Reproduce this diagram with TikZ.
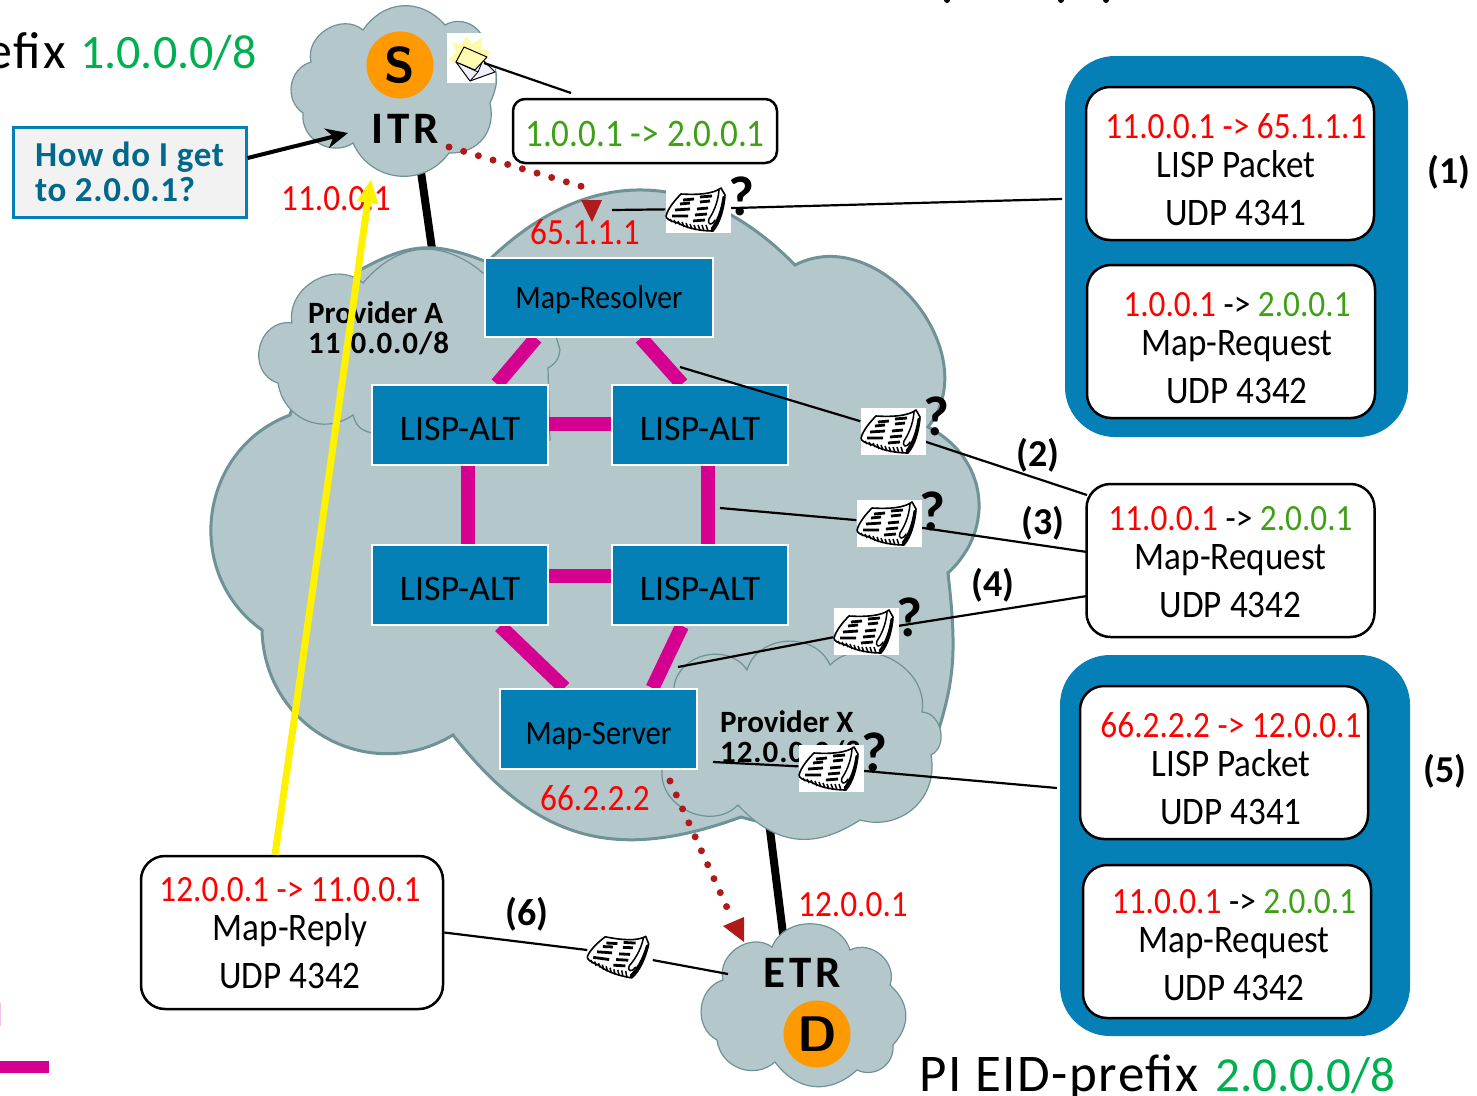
\documentclass[tikz,border=0pt]{standalone}
\usepackage{fontspec}
\setmainfont[FakeStretch=0.9]{Carlito}
\newfontfamily\wide{Carlito}
\usetikzlibrary{arrows.meta,calc}
\definecolor{cloudfill}{HTML}{B4C7CA}
\definecolor{cloudline}{HTML}{6F9297}
\definecolor{altblue}{HTML}{0480B6}
\definecolor{linkpink}{HTML}{D5008F}
\definecolor{darkred}{HTML}{AF1A1A}
\definecolor{pktgreen}{HTML}{3FA015}
\definecolor{eidgreen}{HTML}{00B050}
\definecolor{srcorange}{HTML}{FF9900}
\definecolor{askteal}{HTML}{00688B}
\newcommand{\fs}[1]{\fontsize{#1}{#1}\selectfont}
\newcommand{\rd}[1]{\textcolor{red}{#1}}
\newcommand{\gr}[1]{\textcolor{pktgreen}{#1}}
\newcommand{\ipl}[2][38pt]{\rule{0pt}{#1}{\fs{37}#2}}
\tikzset{
  lobe/.style={bend left=#1,looseness=1.15},
  bigcloud/.style={fill=cloudfill,draw=cloudline,line width=3pt,line join=miter},
  smallcloud/.style={fill=cloudfill,draw=cloudline,line width=1.2pt},
  altbox/.style={rectangle,fill=altblue,draw=white,line width=2pt,inner sep=0pt,font=\fs{33}},
  altwide/.style={altbox,minimum width=176pt,minimum height=80pt,font=\wide\fs{36}},
  panel/.style={rectangle,fill=altblue,rounded corners=50pt,minimum width=343pt,minimum height=381pt,inner sep=0pt},
  pkt/.style={rectangle,draw=black,fill=white,line width=2.5pt,rounded corners=24pt,minimum width=288pt,minimum height=153pt,inner sep=0pt},
  pkttext/.style={inner sep=0pt,align=center,font=\fs{39},minimum height=153pt},
  iplabel/.style={inner sep=0pt,font=\fs{37},text=red},
  steplabel/.style={inner sep=0pt,font=\wide\bfseries\fs{38}},
  wire/.style={line width=2.2pt,draw=black},
  uplink/.style={line width=8pt,draw=black},
  altlink/.style={line width=14pt,draw=linkpink},
  dots/.style={draw=darkred,line width=7pt,line cap=round,dash pattern=on 0pt off 15.3pt},
  newsbg/.style={rectangle,fill=white,minimum width=65pt,minimum height=47pt,inner sep=0pt},
  qmark/.style={inner sep=0pt,font=\wide\bfseries\fs{56}},
  provlabel/.style={inner sep=0pt,anchor=west,align=left,font=\wide\bfseries\fs{31}},
  endlabel/.style={inner sep=0pt,font=\wide\addfontfeature{LetterSpace=8}\bfseries\fs{45}},
  paper/.pic={
    \draw[line width=1.6pt,fill=white,line join=round] (-17,-15) .. controls (0,-14) and (15,-15) .. (23,-21) -- (27,-14)
       .. controls (26,0) and (22,14) .. (15,22) .. controls (5,22) and (-10,20) .. (-20,14)
       .. controls (-28,12) and (-32,10) .. (-32,7) .. controls (-30,-1) and (-22,-10) .. (-17,-15) -- cycle;
    \draw[line width=2.8pt] (-15,-9) -- (-4,-10) (-18,-5) -- (-8,-6) (-23,1) -- (-8,0) (-26,7) -- (-10,7);
    \draw[line width=2.8pt] (2,-12) -- (14,-13) (2,-7) -- (12,-8) (-1,0) -- (10,-1) (-3,6) -- (9,5) (-5,12) -- (7,11);
    \draw[line width=1.5pt] (-28,10) -- (-26,13) (-24,11) -- (-22,15) (-20,12) -- (-18,16) (-16,13) -- (-14,18)
       (-12,14) -- (-10,19) (-8,15) -- (-6,20) (-4,16) -- (-2,21) (0,16) -- (2,21) (4,16) -- (6,22) (8,16) -- (10,22);
    \draw[line width=3pt,line cap=round] (26,-12) .. controls (24,2) and (20,12) .. (14,20);
    \draw[line width=1.5pt,line cap=round] (21,-19) .. controls (20,-6) and (15,4) .. (11,10) .. controls (9,16) and (14,17) .. (17,11);
  }
}
\begin{document}
\begin{tikzpicture}[x=1pt,y=-1pt]
\useasboundingbox (0,0) rectangle (1477,1095);

% free ends of the connectors
\coordinate (itrcore) at (410,95);
\coordinate (provcore) at (445,340);
\coordinate (xcore) at (765,790);
\coordinate (etrcore) at (790,990);
\coordinate (itrin) at (348,133);
\coordinate (yellowtip) at (371,179);
\coordinate (dotA) at (449,147);
\coordinate (dotB) at (587,188);
\coordinate (dotC) at (670,781);
\coordinate (dotD) at (729,912);
\coordinate (envend) at (484,63);
\coordinate (envout) at (571,93);
\coordinate (q1) at (612,210);
\coordinate (q1e) at (1062,199);
\coordinate (q2) at (680,367);
\coordinate (q2e) at (1087,495);
\coordinate (q3) at (720,508);
\coordinate (q3e) at (1087,552);
\coordinate (q4) at (678,667);
\coordinate (q4e) at (1087,596);
\coordinate (q5) at (713,762);
\coordinate (q5e) at (1057,788);
\coordinate (etrin) at (728,974);

% access links behind the clouds
\draw[uplink] (itrcore) -- (provcore);
\draw[uplink] (xcore) -- (etrcore);

% core cloud
\path[bigcloud] (360,270) to[lobe=25] (487,262) to[lobe=45] (795,265) to[lobe=78] (928,427)
  to[lobe=55] (948,573) to[lobe=13] (925,770) to[lobe=30] (741,817) to[lobe=36] (453,735)
  to[lobe=60] (262,630) to[lobe=62] (290,415) to[lobe=10] (360,270) -- cycle;
% provider A
\path[smallcloud] (292,323) to[lobe=70] (363,283) to[lobe=45] (483,273) to[lobe=30] (560,350)
  to[lobe=25] (548,368) -- (550,440) -- (372,433) to[lobe=30] (353,415) to[lobe=58] (278,383)
  to[bend left=85,looseness=1.45] (292,323) -- cycle;
% provider X
\path[smallcloud] (674,687) to[lobe=70] (747,670) to[lobe=70] (830,665) to[lobe=72] (922,712)
  to[lobe=75] (931,755) to[lobe=58] (860,820) to[lobe=40] (738,805) to[lobe=70] (662,770) -- cycle;
% ITR cloud
\path[smallcloud] (311,62) to[lobe=72] (363,30) to[lobe=52] (445,25) to[lobe=62] (485,50)
  to[lobe=30] (490,103) to[lobe=52] (449,153) to[lobe=60] (353,143) to[lobe=65] (303,113) to[lobe=65] (311,62) -- cycle;
% ETR cloud
\path[smallcloud] (723,980) to[lobe=70] (772,947) to[lobe=70] (850,950) to[lobe=68] (890,985)
  to[lobe=45] (893,1045) to[lobe=60] (857,1070) to[lobe=48] (775,1062) to[lobe=62] (717,1040) to[lobe=68] (723,980) -- cycle;

% boxes of the mapping system (placed first so links can refer to them)
\node[altbox,minimum width=228pt,minimum height=79pt] (res) at (599,297.5) {};
\node[altwide] (alt1) at (460,425) {};
\node[altwide] (alt2) at (700,425) {};
\node[altwide] (alt3) at (460,585) {};
\node[altwide] (alt4) at (700,585) {};
\node[altbox,minimum width=197pt,minimum height=80pt] (srv) at (598.5,729) {};

% links of the mapping system
\draw[altlink] ([xshift=-63pt]res.south) -- ([xshift=37pt]alt1.north);
\draw[altlink] ([xshift=42pt]res.south) -- ([xshift=-18pt]alt2.north);
\draw[altlink] ([yshift=1pt]alt1.east) -- ([yshift=1pt]alt2.west);
\draw[altlink] ([xshift=8pt]alt1.south) -- ([xshift=8pt]alt3.north);
\draw[altlink] ([xshift=8pt]alt2.south) -- ([xshift=8pt]alt4.north);
\draw[altlink] ([yshift=9pt]alt3.east) -- ([yshift=9pt]alt4.west);
\draw[altlink] ([xshift=40pt]alt3.south) -- ([xshift=-34pt]srv.north);
\draw[altlink] ([xshift=-18pt]alt4.south) -- ([xshift=54pt]srv.north);
% boxes again on top of the link ends, with their labels
\node[altbox,minimum width=228pt,minimum height=79pt] (resT) at (res) {\rule{0pt}{27pt}Map-Resolver};
\node[altwide] (alt1T) at (alt1) {\rule{0pt}{31pt}LISP-ALT};
\node[altwide] (alt2T) at (alt2) {\rule{0pt}{31pt}LISP-ALT};
\node[altwide] (alt3T) at (alt3) {\rule{0pt}{31pt}LISP-ALT};
\node[altwide] (alt4T) at (alt4) {\rule{0pt}{31pt}LISP-ALT};
\node[altbox,minimum width=197pt,minimum height=80pt,font=\fs{34}] (srvT) at (srv) {\rule{0pt}{37pt}Map-Server};

% provider labels
\node[provlabel] (provA) at (308,328) {Provider\ A\\[-1pt]{\addfontfeature{LetterSpace=3}11.0.0.0/8}};
\node[provlabel] (provX) at (720,737) {Provider X\\[-1pt]{\addfontfeature{LetterSpace=3}12.0.0.0/8}};

% panels
\node[panel] (panelA) at (1236.5,246.5) {};
\node[panel,minimum width=350pt] (panelB) at (1235,845.5) {};

% packet boxes
\node[pkt] (b1) at (1230,163.5) {};
\node[pkt] (b2) at (1231,341.5) {};
\node[pkt] (b3) at (1230.5,560.5) {};
\node[pkt] (b4) at (1224,762.5) {};
\node[pkt] (b5) at (1227,941.5) {};
\node[pkt,minimum width=302pt] (reply) at (292,932.5) {};
\node[pkttext] (t1) at (1236,163.5) {\ipl{\rd{11.0.0.1 -> 65.1.1.1}}\\LISP Packet\\[9pt]UDP 4341};
\node[pkttext] (t2) at (1237,341.5) {\ipl{\rd{1.0.0.1} -> \gr{2.0.0.1}}\\Map-Request\\[9pt]UDP 4342};
\node[pkttext] (t3) at (1230.5,560.5) {\ipl[28pt]{\rd{11.0.0.1} -> \gr{2.0.0.1}}\\Map-Request\\[9pt]UDP 4342};
\node[pkttext] (t4) at (1231,762.5) {\ipl{\rd{66.2.2.2 -> 12.0.0.1}}\\LISP Packet\\[9pt]UDP 4341};
\node[pkttext] (t5) at (1234,941.5) {\ipl[32pt]{\rd{11.0.0.1} -> \gr{2.0.0.1}}\\Map-Request\\[9pt]UDP 4342};
\node[pkttext] (t6) at (290,932.5) {\ipl[26pt]{\rd{12.0.0.1 -> 11.0.0.1}}\\Map-Reply\\[9pt]UDP 4342};
\node[pkt,minimum width=264pt,minimum height=64pt,rounded corners=12pt,text=pktgreen,font=\fs{39}] (data) at (645,131) {\rule{0pt}{32pt}1.0.0.1 -> 2.0.0.1};
\node[rectangle,draw=altblue,fill=black!5,line width=3pt,minimum width=233pt,minimum height=90pt,inner sep=0pt,align=left,text=askteal,font=\wide\addfontfeature{LetterSpace=2}\bfseries\fs{35}] (how) at (129.5,172) {How do I get\\to 2.0.0.1?};

% newspapers
\node[newsbg] (n1) at (698,209) {};
\node[newsbg] (n2) at (893,431) {};
\node[newsbg] (n3) at (889,523) {};
\node[newsbg] (n4) at (866,631) {};
\node[newsbg] (n5) at (831,768) {};
\node[newsbg] (n6) at (620,954) {};

% connectors through the newspapers
\draw[wire] (q1) -- (n1) -- (q1e);
\draw[wire] (q2) -- (n2) -- (q2e);
\draw[wire] (q3) -- (n3) -- (q3e);
\draw[wire] (q4) -- (n4) -- (q4e);
\draw[wire] (q5) -- (n5) -- (q5e);
\draw[wire] (reply.east) -- (n6) -- (etrin);

\foreach \n in {n1,n2,n3,n4,n5} {
  \node[newsbg] at (\n) {};
  \pic at (\n) {paper};
}
\pic[rotate=-8] at (n6) {paper};
\node[qmark] (qa) at (741,196) {?};
\node[qmark] (qb) at (936,416) {?};
\node[qmark] (qc) at (932,511) {?};
\node[qmark] (qd) at (909,617) {?};
\node[qmark] (qe) at (874,752) {?};

% source, envelope
\node[circle,fill=srcorange,minimum size=67pt,inner sep=0pt,font=\sffamily\bfseries\fs{50}] (src) at (400,65) {S};
\node[circle,fill=srcorange,minimum size=67pt,inner sep=0pt,font=\sffamily\bfseries\fs{50}] (dst) at (817,1034) {D};
\node[rectangle,fill=white,minimum width=48pt,minimum height=50pt,inner sep=0pt] (env) at (471,58) {};
\fill[yellow!35!white] (449,60) -- (456,52) -- (452,42) -- (462,45) -- (466,36) -- (472,44) -- (482,38) -- (481,49) -- (491,52) -- (484,59) -- (490,68) -- (470,70) -- cycle;
\draw[line width=1pt,fill=blue!6,line join=round] (456,62) -- (470,81) -- (495,72) -- (483,60) -- cycle;
\draw[line width=.8pt] (456,62) -- (478,72) -- (483,60) (470,81) -- (478,72);
\draw[line width=1pt,fill=yellow!30,line join=round] (464,47) -- (487,57) -- (475,70) -- (456,62) -- cycle;
\draw[wire] (envend) -- (envout);

% labels
\node[endlabel] (itr) at (405,129) {ITR};
\node[endlabel] (etr) at (802,973) {ETR};
\node[iplabel] (ip1) at (336,199) {11.0.0.1};
\node[iplabel] (ip2) at (585,232) {65.1.1.1};
\node[iplabel] (ip3) at (595,798) {66.2.2.2};
\node[iplabel] (ip4) at (853,905) {12.0.0.1};
\node[steplabel] (s1) at (1449,172) {(1)};
\node[steplabel] (s2) at (1038,455) {(2)};
\node[steplabel] (s3) at (1043,523) {(3)};
\node[steplabel] (s4) at (993,585) {(4)};
\node[steplabel] (s5) at (1445,771) {(5)};
\node[steplabel] (s6) at (527,914) {(6)};
\node[inner sep=0pt,anchor=base east,font=\wide\addfontfeature{LetterSpace=4}\fs{52}] (eidA) at (66,68) {efix};
\node[inner sep=0pt,anchor=base west,font=\wide\fs{48},text=eidgreen] (eidAn) at (80,68) {1.0.0.0/8};
\node[inner sep=0pt,anchor=base west,font=\wide\addfontfeature{LetterSpace=3}\fs{53}] (eidB) at (919,1091) {PI EID-prefix};
\node[inner sep=0pt,anchor=base west,font=\wide\fs{49},text=eidgreen] (eidBn) at (1215,1091) {2.0.0.0/8};

% dotted arrows
\draw[dots] (dotA) -- (dotB);
\fill[darkred] (581,200) -- (602,200) -- (592,222) -- cycle;
\draw[dots] (dotC) -- (dotD);
\fill[darkred] (723,926) -- (744,917) -- (744,942) -- cycle;

% request arrows
\draw[line width=4pt,-{Stealth[length=22pt,width=20pt]}] ([yshift=14pt]how.east) -- (itrin);
\draw[line width=7pt,yellow,-{Triangle[length=24pt,width=20pt]}] ([xshift=-17pt]reply.north) -- (yellowtip);

% fragments at the picture's edges
\fill[linkpink] (0,1061) rectangle (49,1073);
\fill[linkpink!25] (0,1003) rectangle (1.2,1026);
\fill (947,0) circle (3pt) (1061,0) circle (3pt) (1106,0) circle (3pt);
\end{tikzpicture}
\end{document}
